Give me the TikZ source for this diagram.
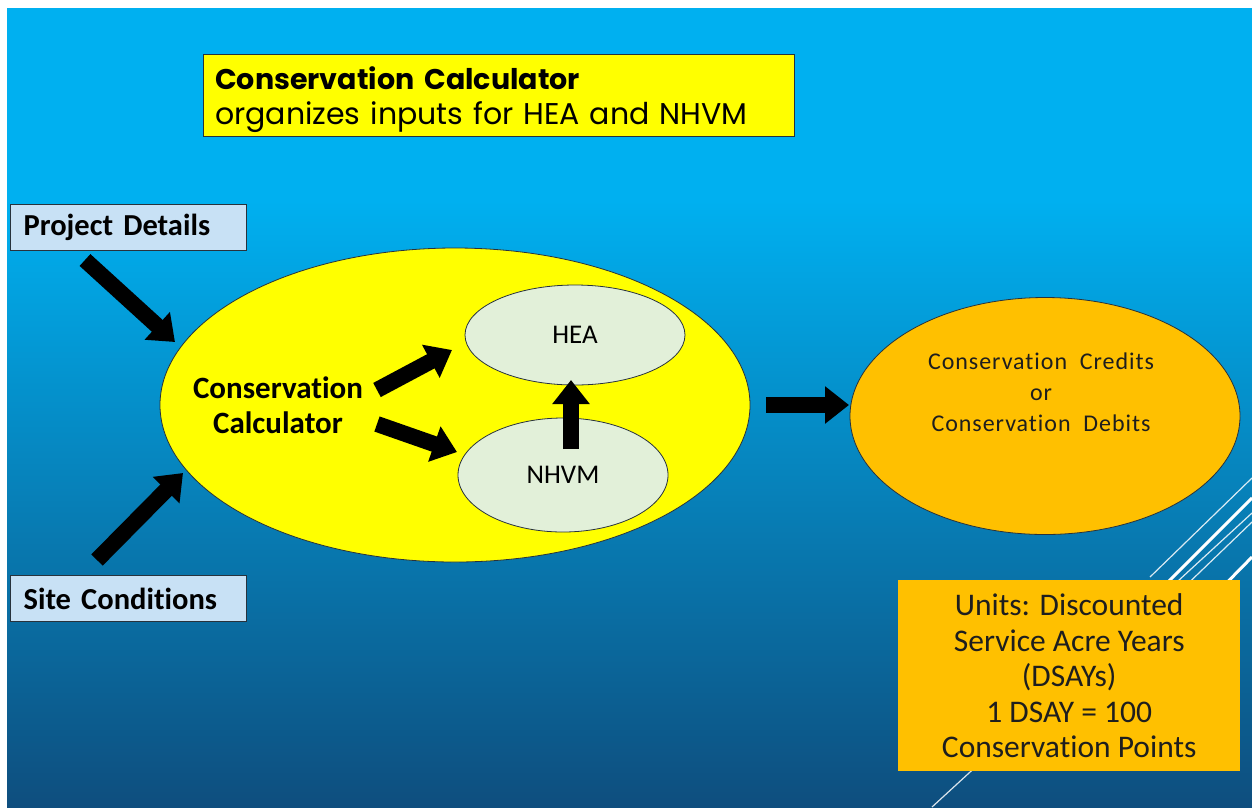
\documentclass[tikz,border=0pt]{standalone}
\usepackage{fontspec}
\setmainfont{Carlito}[Ligatures=NoCommon]
\newfontfamily\gothic{Poppins}
\newfontfamily\spaced{Carlito}[LetterSpace=4,Ligatures=NoCommon]
\usetikzlibrary{shapes.geometric,arrows.meta}
\definecolor{cyanbg}{RGB}{0,176,240}
\definecolor{darkbg}{RGB}{14,78,126}
\definecolor{ybox}{RGB}{255,255,0}
\definecolor{lblue}{RGB}{200,225,245}
\definecolor{lgreen}{RGB}{226,240,217}
\definecolor{orng}{RGB}{255,192,0}
\definecolor{edgec}{RGB}{40,50,60}
\definecolor{txt}{RGB}{30,30,30}
\begin{document}
\begin{tikzpicture}[x=1pt,y=-1pt,
  blk/.style={line width=16pt,-{Triangle[length=24pt,width=36pt]},black},
  inbox/.style={draw=edgec,line width=1.2pt,fill=lblue,anchor=north west,
    minimum width=236pt,minimum height=46pt,text width=210pt,inner xsep=13pt,inner ysep=0pt,
    align=left,font=\fontsize{30.5}{34}\selectfont\bfseries,text=black},
  oval/.style={ellipse,draw=edgec,line width=0.8pt,inner sep=0pt},
  deco/.style={white,opacity=0.85,line width=1.2pt},
  decothick/.style={white,line width=3pt}]
\useasboundingbox (0,0) rectangle (1252,807);
\fill[white] (0,0) rectangle (1252,807);
\fill[cyanbg] (7,8) rectangle (1252,201);
\shade[top color=cyanbg,bottom color=darkbg] (7,200) rectangle (1252,807);
% decorative lines
\draw[deco] (1150,577) -- (1252,478);
\draw[decothick] (1130,620) -- (1252,498);
\draw[deco] (932,807) -- (1252,513);
\draw[deco] (1150,620) -- (1252,522);
\draw[decothick] (1200,610) -- (1252,557);
% title box
\node[draw=edgec,line width=1.2pt,fill=ybox,anchor=north west,minimum width=591pt,minimum height=82pt,
  inner sep=0pt] (titlebox) at (203,54) {};
\node[anchor=west,text width=565pt,inner xsep=12pt,inner ysep=0pt,align=left,
  font=\gothic\fontsize{30}{35}\selectfont] (title) at ([yshift=-4pt]titlebox.west)
  {{\bfseries\fontsize{28.5}{35}\selectfont Conservation Calculator}\\organizes inputs for HEA and NHVM};
% input boxes
\node[inbox] (pd) at (10,204) {Project Details};
\node[inbox] (sc) at (10,575) {Site Conditions};
% ellipses
\node[oval,fill=ybox,minimum width=590pt,minimum height=314pt] (big) at (455,405) {};
\node[oval,fill=lgreen,minimum width=220pt,minimum height=100pt,font=\fontsize{27}{30}\selectfont] (hea) at (575,335) {HEA};
\node[oval,fill=lgreen,minimum width=210pt,minimum height=114pt,font=\fontsize{27}{30}\selectfont] (nhvm) at (563,475) {NHVM};
\node[oval,fill=orng,minimum width=390pt,minimum height=237pt] (res) at (1045,416) {};
\node[align=center,text=txt,font=\spaced\fontsize{24}{31}\selectfont] (restext) at (1041,392)
  {Conservation\ \ Credits\\or\\Conservation\ \ Debits};
\node[align=center,text=black,font=\fontsize{31}{35}\selectfont\bfseries] (cc) at (278,405)
  {Conservation\\Calculator};
% units box
\node[fill=orng,anchor=north west,minimum width=342pt,minimum height=191pt,inner sep=0pt,
  align=center,text=txt,font=\fontsize{31.5}{35.5}\selectfont] (units) at (898,580)
  {Units: Discounted\\Service Acre Years\\(DSAYs)\\1 DSAY = 100\\Conservation Points};
% arrow end points
\coordinate (pdT) at (85,260);  \coordinate (pdH) at (175,342);
\coordinate (scT) at (97,560);  \coordinate (scH) at (183,473);
\coordinate (c1T) at (377,390); \coordinate (c1H) at (452,350);
\coordinate (c2T) at (377,424); \coordinate (c2H) at (457,452);
\coordinate (nT) at (571,449);  \coordinate (nH) at (571,380);
\coordinate (bT) at (766,405);  \coordinate (bH) at (849,405);
\draw[blk] (pdT) -- (pdH);
\draw[blk] (scT) -- (scH);
\draw[blk] (c1T) -- (c1H);
\draw[blk] (c2T) -- (c2H);
\draw[blk] (nT) -- (nH);
\draw[blk] (bT) -- (bH);
\end{tikzpicture}
\end{document}
